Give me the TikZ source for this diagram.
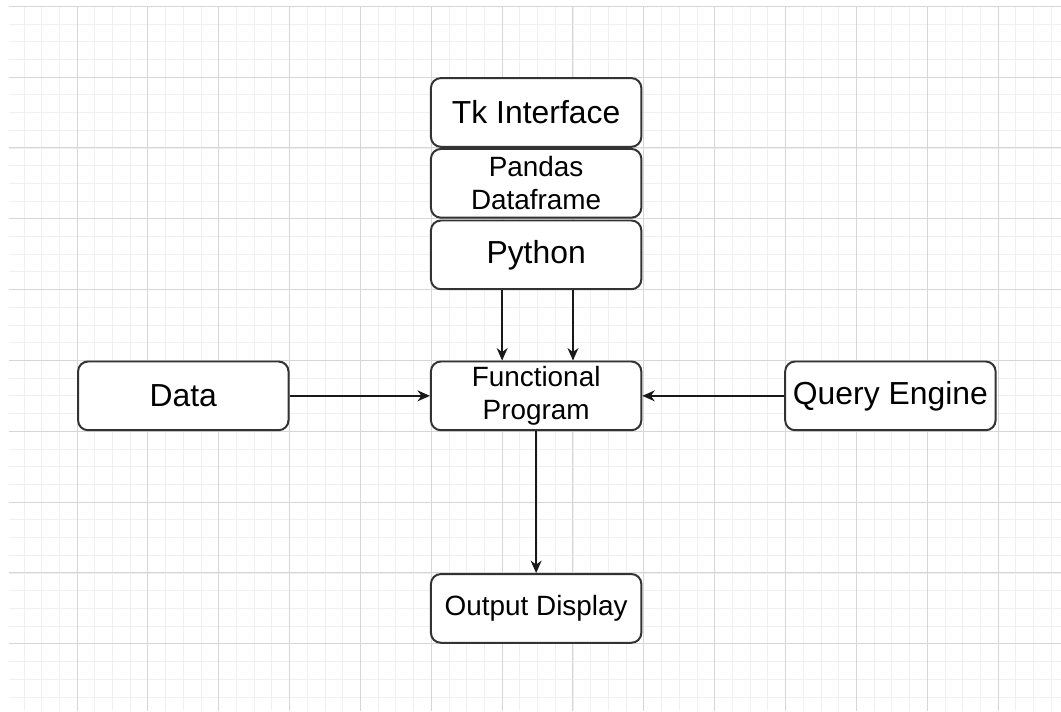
\documentclass[tikz,border=0pt]{standalone}
\usepackage{fontspec}
\setmainfont{Liberation Sans}
\usepackage{tikz}
\usetikzlibrary{arrows,arrows.meta,shapes}
\usetikzlibrary{positioning}
\tikzstyle{block}=[draw,rectangle,rounded corners=4pt,align=center,black!80,text=black,fill=white,line width=0.8pt,minimum width=2.97cm,minimum height=0.97cm,inner sep=1pt]
\tikzstyle{bigtext}=[font=\fontsize{12.8}{14}\selectfont]
\tikzstyle{smalltext}=[font=\fontsize{11.2}{13.3}\selectfont]
\tikzstyle{flow} = [>={Stealth[length=5pt,width=4.4pt,inset=1.6pt]},draw,line width=0.6pt,->,black!90]
\tikzstyle{minorgrid}=[gray!12,line width=0.3pt]
\tikzstyle{majorgrid}=[gray!32,line width=0.4pt]

\begin{document}
\begin{tikzpicture}

	\useasboundingbox (-0.087,0.087) rectangle (14.888,-9.949);
	\fill[white] (-0.087,0.087) rectangle (14.888,-9.949);

	% % % grid
	\draw[minorgrid] (0.04,-9.949) grid[step=0.25] (14.888,0);
	\draw[majorgrid] (0.04,-9.949) grid[step=1] (14.888,0);

	% % % stack
	\node[block,bigtext] (tki) at (7.48,-1.5) {Tk Interface};
	\node[block,smalltext] (pdf) at (7.48,-2.5) {Pandas\\Dataframe};
	\node[block,bigtext] (pyt) at (7.48,-3.51) {Python};

	% % % middle row
	\node[block,bigtext] (dat) at (2.5,-5.5) {Data};
	\node[block,smalltext] (fun) at (7.48,-5.5) {Functional\\Program};
	\node[block,bigtext] (qen) at (12.48,-5.5) {Query Engine};

	\node[block,smalltext] (out) at (7.48,-8.5) {Output Display};


	\path[flow] ([xshift=-0.48cm]pyt.south) -- ([xshift=-0.48cm]fun.north);
	\path[flow] ([xshift=0.52cm]pyt.south) -- ([xshift=0.52cm]fun.north);

	\path[flow] (dat) -- (fun);
	\path[flow] (qen) -- (fun);

	\path[flow] (fun) -- (out);

\end{tikzpicture}
\end{document}
